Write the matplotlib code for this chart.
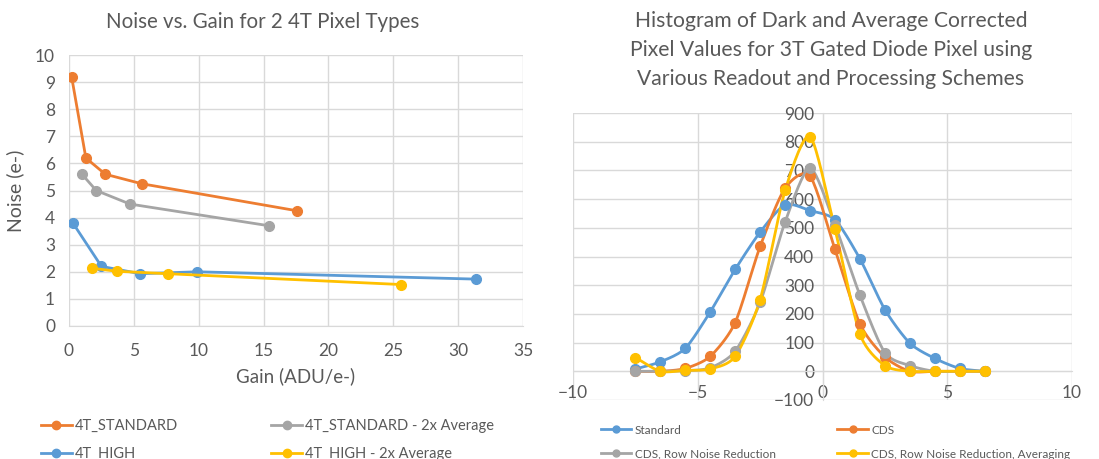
import numpy as np
import matplotlib
matplotlib.use("Agg")
import matplotlib.pyplot as plt
from matplotlib.lines import Line2D

# ---- left chart data: noise vs gain ----
std_gain = [0.2, 1.3, 2.8, 5.6, 17.6]
std_noise = [9.2, 6.2, 5.6, 5.25, 4.25]
std_avg_gain = [1.0, 2.1, 4.7, 15.4]
std_avg_noise = [5.6, 5.0, 4.5, 3.7]
high_gain = [0.3, 2.5, 5.5, 9.9, 31.4]
high_noise = [3.8, 2.2, 1.93, 2.0, 1.73]
high_avg_gain = [1.8, 3.7, 7.6, 25.6]
high_avg_noise = [2.13, 2.02, 1.93, 1.53]

# ---- right chart data: histogram ----
bins = [-7.5, -6.5, -5.5, -4.5, -3.5, -2.5, -1.5, -0.5, 0.5, 1.5, 2.5, 3.5, 4.5, 5.5, 6.5]
standard = [8, 33, 80, 207, 355, 485, 580, 560, 528, 392, 215, 98, 45, 10, 0]
cds = [0, 0, 10, 52, 170, 435, 638, 680, 425, 165, 50, 0, 0, 0, 0]
cds_row = [0, 0, 2, 12, 70, 240, 520, 708, 510, 265, 65, 20, 0, 0, 0]
cds_row_avg = [48, 0, 3, 8, 52, 250, 630, 818, 495, 130, 20, 0, 0, 0, 0]

ORANGE = "#ED7D31"
GRAY = "#A5A5A5"
BLUE = "#5B9BD5"
YELLOW = "#FFC000"
TXT = "#595959"
GRID = "#D9D9D9"

plt.rcParams["font.family"] = ["Lato", "DejaVu Sans"]


def smooth(x, y, n=20):
    # Catmull-Rom style curve through the points (like Excel's smoothed line)
    x = np.asarray(x, float)
    y = np.asarray(y, float)
    px = np.concatenate([[2 * x[0] - x[1]], x, [2 * x[-1] - x[-2]]])
    py = np.concatenate([[2 * y[0] - y[1]], y, [2 * y[-1] - y[-2]]])
    xs, ys = [], []
    t = np.linspace(0, 1, n)
    for i in range(1, len(px) - 2):
        for arr, out in ((px, xs), (py, ys)):
            p0, p1, p2, p3 = arr[i - 1], arr[i], arr[i + 1], arr[i + 2]
            m1 = (p2 - p0) / 2 * 0.75
            m2 = (p3 - p1) / 2 * 0.75
            h00 = 2 * t**3 - 3 * t**2 + 1
            h10 = t**3 - 2 * t**2 + t
            h01 = -2 * t**3 + 3 * t**2
            h11 = t**3 - t**2
            out.extend(h00 * p1 + h10 * m1 + h01 * p2 + h11 * m2)
    return xs, ys


fig = plt.figure(figsize=(10.99, 4.59), dpi=100)
W, H = 1099, 459

# ================= left chart =================
ax1 = fig.add_axes([69 / W, 1 - 326 / H, 454 / W, 271 / H])
for gx, gy, c in ((std_gain, std_noise, ORANGE),
                  (std_avg_gain, std_avg_noise, GRAY),
                  (high_gain, high_noise, BLUE),
                  (high_avg_gain, high_avg_noise, YELLOW)):
    ax1.plot(gx, gy, color=c, lw=2, marker="o", ms=7, zorder=3)

ax1.set_xlim(0, 35)
ax1.set_ylim(0, 10)
ax1.set_xticks(np.arange(0, 36, 5))
ax1.set_yticks(np.arange(0, 11, 1))
ax1.grid(True, color=GRID, lw=1)
ax1.set_axisbelow(True)
for s in ("top", "right", "left"):
    ax1.spines[s].set_visible(False)
ax1.spines["bottom"].set_color(GRID)
ax1.tick_params(length=0, labelsize=12.5, colors=TXT)
ax1.tick_params(axis="x", pad=12)
ax1.tick_params(axis="y", pad=10)
ax1.set_xlabel("Gain (ADU/e-)", fontsize=13.5, color=TXT, labelpad=6)
ax1.set_ylabel("Noise (e-)", fontsize=14, color=TXT, labelpad=8)
fig.text(263 / W, 1 - 22 / H, "Noise vs. Gain for 2 4T Pixel Types", fontsize=14.8,
         color=TXT, ha="center", va="center")

h_l = [Line2D([], [], color=c, lw=2, marker="o", ms=6) for c in (ORANGE, BLUE, GRAY, YELLOW)]
lab_l = ["4T_STANDARD", "4T_HIGH", "4T_STANDARD - 2x Average", "4T_HIGH - 2x Average"]
fig.legend(h_l, lab_l, ncol=2, loc="upper left", bbox_to_anchor=(28 / W, 1 - 406 / H),
           frameon=False, fontsize=10.5, labelcolor=TXT, handlelength=2.1,
           handletextpad=0.2, columnspacing=6.4, labelspacing=0.95)

# ================= right chart =================
ax2 = fig.add_axes([573 / W, 1 - 400 / H, 499 / W, 287 / H])
for yv, c in ((standard, BLUE), (cds, ORANGE), (cds_row, GRAY), (cds_row_avg, YELLOW)):
    sx, sy = smooth(bins, yv)
    ax2.plot(sx, sy, color=c, lw=2, zorder=3)
    ax2.plot(bins, yv, color=c, lw=0, marker="o", ms=7, zorder=4)

ax2.set_xlim(-10, 10)
ax2.set_ylim(-100, 900)
ax2.set_xticks(np.arange(-10, 11, 5))
ax2.set_yticks(np.arange(-100, 901, 100))
ax2.grid(True, color=GRID, lw=1)
ax2.set_axisbelow(True)
for s in ("top", "right"):
    ax2.spines[s].set_visible(False)
ax2.spines["left"].set_position(("data", 0))
ax2.spines["bottom"].set_position(("data", 0))
ax2.spines["left"].set_color(GRID)
ax2.spines["bottom"].set_color(GRID)
ax2.tick_params(length=0, labelsize=12.5, colors=TXT)
ax2.tick_params(axis="x", pad=10)
ax2.tick_params(axis="y", pad=6)
fig.text(831 / W, 1 - 50 / H,
         "Histogram of Dark and Average Corrected\nPixel Values for 3T Gated Diode Pixel using\nVarious Readout and Processing Schemes",
         fontsize=15.2, color=TXT, ha="center", va="center", linespacing=1.55)

h_r = [Line2D([], [], color=c, lw=2, marker="o", ms=5) for c in (BLUE, GRAY, ORANGE, YELLOW)]
lab_r = ["Standard", "CDS, Row Noise Reduction", "CDS", "CDS, Row Noise Reduction, Averaging"]
fig.legend(h_r, lab_r, ncol=2, loc="upper left", bbox_to_anchor=(590 / W, 1 - 414 / H),
           frameon=False, fontsize=8.5, labelcolor=TXT, handlelength=2.6,
           handletextpad=0.3, columnspacing=5.2, labelspacing=1.1)

fig.savefig("out.png", dpi=100)
